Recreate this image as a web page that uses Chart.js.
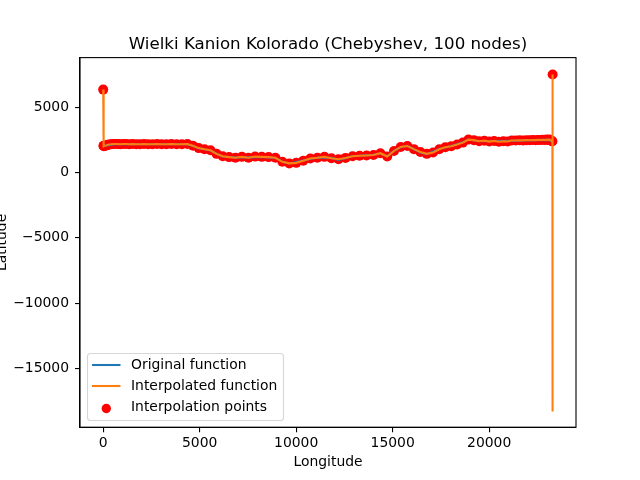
<!DOCTYPE html>
<html>
<head>
<meta charset="utf-8">
<script src="https://cdn.jsdelivr.net/npm/chart.js@4"></script>
<style>
html, body { margin: 0; padding: 0; background: #fff; }
canvas { display: block; }
</style>
</head>
<body>
<canvas id="chart" width="640" height="480"></canvas>
<script>
const nodeLon = [1,13,36,71,117,173,242,322,413,514,628,752,886,1032,1187,1354,1529,1716,1912,2118,
  2332,2556,2790,3032,3282,3541,3808,4082,4364,4653,4949,5251,5560,5875,6196,6521,6853,7188,7528,7873,
  8221,8572,8926,9283,9643,10004,10367,10732,11097,11463,11827,12193,12558,12923,13286,13647,14007,14364,14718,15069,
  15418,15762,16102,16437,16769,17094,17415,17730,18039,18341,18637,18926,19208,19482,19749,20008,20258,20500,20734,20958,
  21172,21378,21574,21760,21936,22102,22258,22403,22538,22662,22775,22876,22967,23047,23116,23173,23219,23254,23277,23289];
const nodeLat = [6350,2050,2020,2060,2050,2080,2120,2150,2170,2180,2190,2180,2170,2180,2190,2170,2180,2160,2170,2180,
  2160,2170,2180,2160,2170,2180,2160,2170,2180,2050,1870,1780,1700,1430,1240,1180,1130,1200,1130,1220,
  1200,1180,1130,820,700,740,900,1080,1130,1200,1090,1020,1120,1240,1290,1310,1340,1480,1230,1650,
  1960,2030,1790,1570,1430,1540,1780,1930,2020,2150,2290,2520,2480,2400,2440,2370,2420,2360,2400,2380,
  2450,2450,2470,2460,2480,2470,2490,2480,2500,2490,2510,2490,2520,2500,2530,2480,2440,2400,2400,7500];
// original function, no spikes at the ends
const originalLon = [13,242,628,1187,1912,2790,3808,4364,4653,4949,5251,5560,5875,6196,6853,7528,8221,8926,9283,9643,
  10367,11097,11827,12193,12923,14007,14364,14718,15069,15418,15762,16437,16769,17415,18039,18637,18926,19482,20258,21172,22102,23047,23289];
const originalLat = [2050,2100,2170,2170,2160,2170,2170,2170,2030,1860,1790,1680,1440,1230,1150,1160,1190,1120,830,690,
  920,1150,1120,970,1250,1360,1470,1250,1660,1940,2050,1540,1410,1800,2040,2310,2530,2400,2410,2440,2480,2500,2400];
const spikeLon = [23284, 23289];
const spikeLat = [-18300, 7500];
const xTicks = [0, 5000, 10000, 15000, 20000];
const yTicks = [-15000, -10000, -5000, 0, 5000];

const toPoints = (xs, ys) => xs.map((x, i) => ({ x: x, y: ys[i] }));

const FONT = 'DejaVu Sans';
const axisFont = { family: FONT, size: 13.9 };

// top and right spines, plus the legend inside the plot
const framePlugin = {
  id: 'frame',
  afterDatasetsDraw(chart) {
    const a = chart.chartArea;
    const ctx = chart.ctx;
    ctx.save();
    ctx.strokeStyle = '#000';
    ctx.lineWidth = 1.1;
    ctx.strokeRect(a.left, a.top, a.right - a.left, a.bottom - a.top);
    ctx.restore();
  },
  afterDraw(chart) {
    const ctx = chart.ctx;
    const ds = chart.data.datasets;
    ctx.save();
    ctx.beginPath();
    ctx.roundRect(87.5, 353.5, 196, 67, 3);
    ctx.fillStyle = 'rgba(255,255,255,0.8)';
    ctx.fill();
    ctx.strokeStyle = 'rgba(204,204,204,0.8)';
    ctx.lineWidth = 1.1;
    ctx.stroke();
    ctx.font = '13.9px "' + FONT + '"';
    ctx.textBaseline = 'middle';
    ctx.textAlign = 'left';
    const rows = [365, 386, 407];
    ds.forEach((d, i) => {
      if (d.showLine) {
        ctx.strokeStyle = d.borderColor;
        ctx.lineWidth = 2.08;
        ctx.beginPath();
        ctx.moveTo(92, rows[i]);
        ctx.lineTo(120.5, rows[i]);
        ctx.stroke();
      } else {
        ctx.fillStyle = d.pointBackgroundColor;
        ctx.beginPath();
        ctx.arc(106.3, rows[i] + 1.5, 4.7, 0, Math.PI * 2);
        ctx.fill();
      }
      ctx.fillStyle = '#000';
      ctx.fillText(d.label, 131, rows[i]);
    });
    ctx.restore();
  }
};

const tickLabel = v => String(v).replace('-', '\u2212');

new Chart(document.getElementById('chart'), {
  type: 'scatter',
  data: {
    datasets: [
      {
        label: 'Original function',
        data: toPoints(originalLon, originalLat),
        showLine: true,
        borderColor: '#1f77b4',
        borderWidth: 2.08,
        pointRadius: 0,
        tension: 0,
        order: 2
      },
      {
        label: 'Interpolated function',
        data: toPoints(nodeLon.slice(0, 99).concat(spikeLon), nodeLat.slice(0, 99).concat(spikeLat)),
        showLine: true,
        borderColor: '#ff7f0e',
        borderWidth: 2.08,
        pointRadius: 0,
        tension: 0,
        order: 1
      },
      {
        label: 'Interpolation points',
        data: toPoints(nodeLon, nodeLat),
        showLine: false,
        pointBackgroundColor: '#ff0000',
        pointBorderWidth: 0,
        pointRadius: 5,
        order: 3
      }
    ]
  },
  options: {
    responsive: false,
    animation: false,
    devicePixelRatio: 1,
    layout: { padding: { left: 0, right: 64, top: 0, bottom: 0 } },
    plugins: {
      legend: { display: false },
      tooltip: { enabled: false },
      title: {
        display: true,
        text: 'Wielki Kanion Kolorado (Chebyshev, 100 nodes)',
        color: '#000',
        fullSize: false,
        font: { family: FONT, size: 16.67, weight: 'normal' },
        padding: { top: 34.5, bottom: 3.1 }
      }
    },
    scales: {
      x: {
        type: 'linear',
        min: -1200,
        max: 24500,
        afterFit(scale) { scale.height = 52.8; },
        afterBuildTicks(scale) { scale.ticks = xTicks.map(v => ({ value: v })); },
        border: { color: '#000', width: 1.1 },
        grid: { drawOnChartArea: false, drawTicks: true, tickLength: 5, color: '#000', lineWidth: 1.1 },
        ticks: {
          autoSkip: false,
          maxRotation: 0,
          color: '#000',
          padding: 3,
          font: axisFont,
          callback: tickLabel
        },
        title: {
          display: true,
          text: 'Longitude',
          color: '#000',
          font: axisFont,
          padding: { top: 0, bottom: 9 }
        }
      },
      y: {
        type: 'linear',
        min: -19500,
        max: 8800,
        afterFit(scale) { scale.width = 80; },
        afterBuildTicks(scale) { scale.ticks = yTicks.map(v => ({ value: v })); },
        border: { color: '#000', width: 1.1 },
        grid: { drawOnChartArea: false, drawTicks: true, tickLength: 5, color: '#000', lineWidth: 1.1 },
        ticks: {
          autoSkip: false,
          color: '#000',
          padding: 6,
          font: axisFont,
          callback: tickLabel
        },
        title: {
          display: true,
          text: 'Latitude',
          color: '#000',
          font: axisFont,
          padding: { top: -6, bottom: 0 }
        }
      }
    }
  },
  plugins: [framePlugin]
});
</script>
</body>
</html>
